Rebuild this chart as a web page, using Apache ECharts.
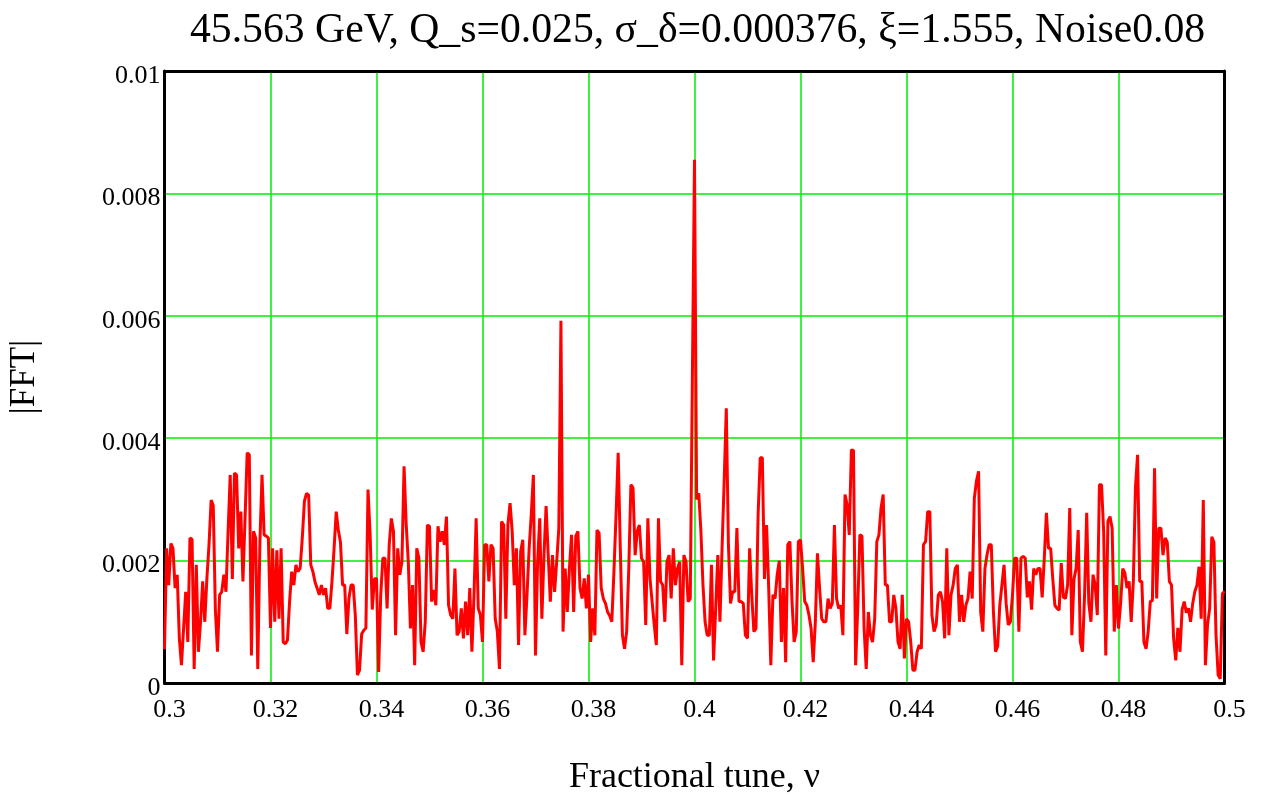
<!DOCTYPE html>
<html>
<head>
<meta charset="utf-8">
<script src="https://cdn.jsdelivr.net/npm/echarts@6/dist/echarts.min.js"></script>
<style>
  html, body { margin: 0; padding: 0; background: #fff; }
  #chart { width: 1265px; height: 796px; }
</style>
</head>
<body>
<div id="chart"></div>
<script>
const titleText = '45.563 GeV, Q_s=0.025, \u03c3_\u03b4=0.000376, \u03be=1.555, Noise0.08';

// FFT bins: 0.3 .. 0.5 with a 0.0004 step (501 bins)
const tuneStart = 0.3;
const tuneStep = 0.0004;

// |FFT| per bin, in units of 1e-3
const fftMilli = [
  0.55, 2.2, 1.6, 2.28, 2.2, 1.55, 1.77, 0.73, 0.29, 0.89,
  1.49, 0.67, 2.37, 2.35, 0.23, 1.93, 0.51, 1.0, 1.66, 1.0,
  1.71, 2.26, 2.99, 2.9, 1.2, 0.51, 1.44, 1.49, 1.77, 1.49,
  2.48, 3.4, 1.7, 3.43, 3.4, 2.2, 2.8, 1.66, 2.69, 3.76,
  3.73, 0.45, 2.48, 2.37, 0.23, 2.3, 3.4, 2.42, 2.4, 2.37,
  0.9, 2.2, 1.0, 2.17, 1.05, 2.2, 0.67, 0.64, 0.7, 1.33,
  1.82, 1.6, 1.93, 1.82, 1.88, 2.37, 2.97, 3.1, 3.07, 1.93,
  1.82, 1.65, 1.55, 1.44, 1.6, 1.44, 1.55, 1.22, 1.22, 1.66,
  2.2, 2.8, 2.5, 2.3, 1.6, 1.6, 0.8, 1.38, 1.6, 1.6,
  1.11, 0.13, 0.21, 0.8, 0.86, 0.9, 3.16, 2.42, 1.2, 1.7,
  1.71, 0.18, 1.44, 2.04, 2.04, 1.22, 2.26, 2.69, 2.48, 0.78,
  2.2, 1.77, 1.98, 3.54, 2.6, 1.98, 0.89, 1.6, 0.29, 2.2,
  2.04, 0.67, 0.51, 1.0, 2.58, 2.56, 1.33, 1.52, 1.27, 2.56,
  2.31, 2.48, 2.26, 2.72, 1.27, 1.11, 1.05, 1.87, 0.78, 0.84,
  1.22, 0.73, 1.33, 0.78, 1.55, 0.51, 1.44, 2.69, 1.22, 1.11,
  0.67, 2.26, 2.26, 1.66, 2.26, 2.2, 1.05, 0.84, 0.23, 2.64,
  2.58, 1.05, 2.6, 2.94, 2.48, 1.6, 2.2, 0.62, 2.15, 2.34,
  0.78, 1.44, 2.2, 2.75, 3.4, 0.45, 1.98, 2.69, 1.05, 2.09,
  2.89, 2.09, 1.33, 2.09, 1.49, 1.98, 2.53, 5.92, 0.84, 1.87,
  1.16, 1.87, 2.42, 1.16, 2.4, 2.48, 1.55, 1.38, 1.71, 1.22,
  1.77, 0.67, 1.22, 0.78, 2.5, 2.45, 1.55, 1.38, 1.3, 1.16,
  1.1, 1.0, 1.82, 2.75, 3.76, 2.2, 0.78, 0.56, 0.84, 1.87,
  3.24, 3.19, 2.09, 2.48, 2.58, 2.04, 1.98, 0.95, 2.69, 1.71,
  1.33, 0.95, 0.62, 2.69, 1.66, 1.6, 1.0, 1.98, 2.09, 1.38,
  2.2, 1.6, 1.87, 1.98, 0.29, 2.09, 1.98, 1.33, 1.38, 5.0,
  8.55, 3.0, 3.1, 2.5, 1.6, 1.0, 0.78, 0.78, 1.93, 0.37,
  1.22, 2.09, 1.0, 2.2, 3.3, 4.49, 2.26, 1.3, 1.49, 1.49,
  2.53, 1.33, 1.33, 1.3, 0.78, 0.73, 2.2, 1.44, 0.84, 0.89,
  2.75, 3.68, 3.68, 1.7, 2.58, 1.55, 0.29, 1.44, 1.38, 1.77,
  2.0, 0.67, 1.55, 0.34, 2.26, 2.31, 1.33, 0.67, 0.84, 2.31,
  2.34, 1.87, 1.33, 1.27, 1.11, 0.89, 0.34, 1.0, 2.12, 1.55,
  1.05, 1.0, 1.0, 1.38, 1.22, 1.3, 2.58, 1.38, 1.22, 1.27,
  0.78, 3.08, 2.91, 2.42, 3.81, 3.8, 0.29, 1.22, 2.42, 2.4,
  0.89, 0.23, 1.16, 0.78, 0.67, 1.05, 2.31, 2.42, 2.86, 3.08,
  1.6, 1.6, 1.0, 1.0, 1.44, 1.22, 0.67, 0.56, 1.44, 0.4,
  1.05, 1.0, 0.67, 0.21, 0.21, 0.51, 0.62, 0.56, 2.26, 2.31,
  2.8, 2.8, 1.11, 0.84, 0.95, 1.44, 1.49, 1.33, 0.73, 2.2,
  0.78, 1.44, 1.6, 1.87, 1.93, 1.0, 1.44, 1.0, 1.27, 1.38,
  1.82, 1.38, 3.02, 3.3, 3.46, 1.16, 0.84, 1.87, 2.1, 2.26,
  2.26, 1.16, 0.51, 0.6, 1.27, 1.6, 1.93, 1.3, 0.95, 1.0,
  1.44, 2.04, 2.04, 0.84, 2.04, 2.07, 2.04, 1.4, 1.66, 1.2,
  1.87, 1.77, 1.87, 1.87, 1.4, 2.04, 2.78, 2.2, 2.2, 1.7,
  1.27, 1.22, 1.19, 1.96, 1.4, 1.38, 1.6, 2.86, 0.78, 1.7,
  1.87, 2.5, 0.67, 0.51, 1.44, 2.78, 1.3, 1.0, 1.77, 1.6,
  1.11, 3.24, 3.24, 2.48, 0.45, 2.64, 2.72, 2.53, 0.84, 1.6,
  0.89, 1.3, 1.87, 1.8, 1.55, 1.66, 1.0, 1.66, 3.2, 3.73,
  1.66, 1.66, 0.67, 0.56, 0.84, 1.33, 1.35, 3.51, 1.38, 2.53,
  2.53, 2.09, 2.37, 2.3, 1.66, 1.6, 0.73, 0.37, 0.9, 0.51,
  1.2, 1.33, 1.15, 1.22, 1.0, 1.3, 1.49, 1.6, 1.9, 1.05,
  2.99, 0.29, 0.95, 1.22, 2.39, 2.3, 0.78, 0.13, 0.07, 1.46,
  1.5
];

const xMin = 0.3, xMax = 0.5, xInterval = 0.02;
const yMin = 0, yMax = 0.01, yInterval = 0.002;

const serif = "'Liberation Serif', 'Times New Roman', serif";
const frame = { show: true, onZero: false, lineStyle: { color: '#000', width: 3 } };
const gridGreen = { show: true, showMinLine: false, showMaxLine: false, lineStyle: { color: '#00ee00', width: 1.5 } };

const points = fftMilli.map((v, i) => [tuneStart + i * tuneStep, v / 1000]);

const chart = echarts.init(document.getElementById('chart'));

chart.setOption({
  animation: false,
  backgroundColor: '#fff',
  title: {
    text: titleText,
    left: 185,
    top: 5,
    textStyle: { fontFamily: serif, fontSize: 41.7, fontWeight: 'normal', color: '#000' }
  },
  grid: {
    left: 164.5,
    right: 40.5,
    top: 71,
    bottom: 113,
    outerBoundsMode: 'none'
  },
  xAxis: [{
    type: 'value',
    position: 'bottom',
    min: xMin,
    max: xMax,
    interval: xInterval,
    name: 'Fractional tune, \u03bd',
    nameLocation: 'middle',
    nameGap: 77,
    nameTextStyle: { fontFamily: serif, fontSize: 36, color: '#000' },
    axisLine: frame,
    axisTick: { show: false },
    axisLabel: {
      fontFamily: serif,
      fontSize: 26,
      color: '#000',
      margin: 14,
      padding: [0, 0, 0, 10],
      formatter: v => String(+v.toFixed(2))
    },
    splitLine: gridGreen
  }, {
    type: 'value',
    position: 'top',
    min: xMin,
    max: xMax,
    axisLine: frame,
    axisTick: { show: false },
    axisLabel: { show: false },
    splitLine: { show: false }
  }],
  yAxis: [{
    type: 'value',
    position: 'left',
    min: yMin,
    max: yMax,
    interval: yInterval,
    name: '|FFT|',
    nameLocation: 'middle',
    nameRotate: 90,
    nameGap: 122,
    nameTextStyle: { fontFamily: serif, fontSize: 35, color: '#000' },
    axisLine: frame,
    axisTick: { show: false },
    axisLabel: {
      fontFamily: serif,
      fontSize: 26,
      color: '#000',
      margin: 4,
      verticalAlign: 'top',
      lineHeight: 10,
      formatter: v => String(+v.toFixed(3))
    },
    splitLine: gridGreen
  }, {
    type: 'value',
    position: 'right',
    min: yMin,
    max: yMax,
    axisLine: frame,
    axisTick: { show: false },
    axisLabel: { show: false },
    splitLine: { show: false }
  }],
  series: [{
    type: 'line',
    xAxisIndex: 0,
    yAxisIndex: 0,
    data: points,
    showSymbol: false,
    clip: true,
    lineStyle: { color: '#ff0000', width: 3 },
    z: 3
  }]
});
</script>
</body>
</html>
